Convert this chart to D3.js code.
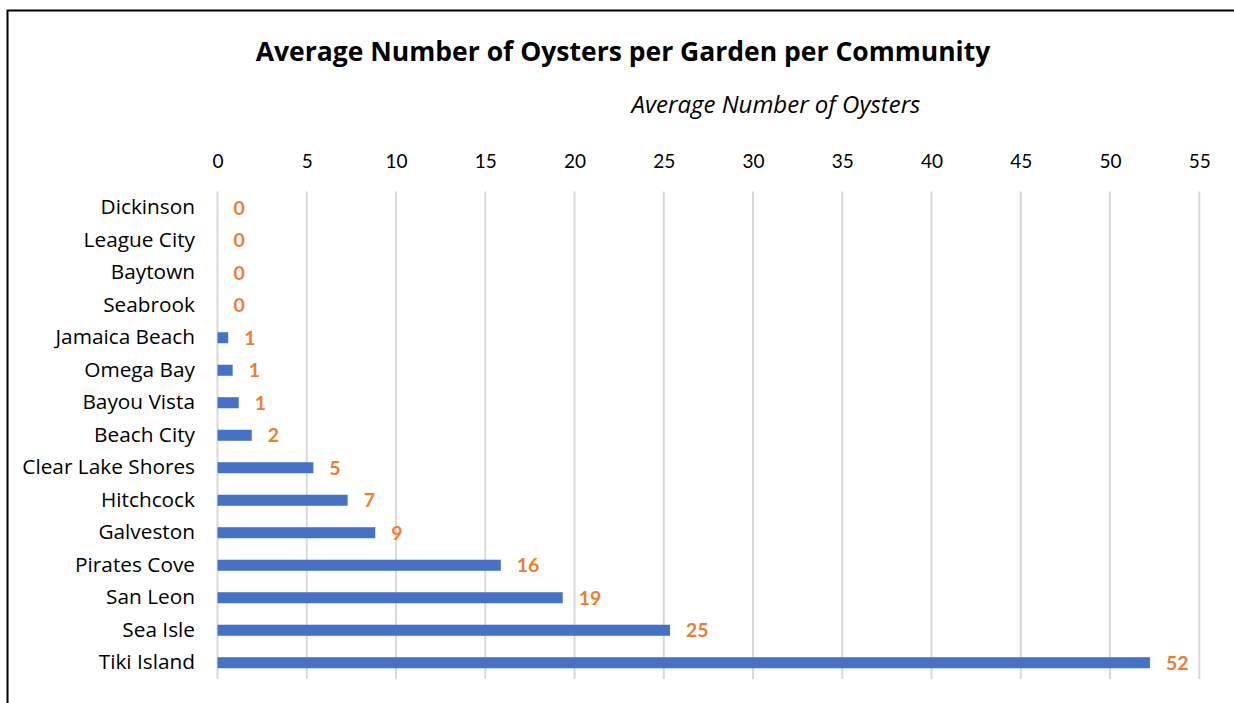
<!DOCTYPE html>
<html>
<head>
<meta charset="utf-8">
<script src="https://cdn.jsdelivr.net/npm/d3@7"></script>
<style>
  html, body { margin: 0; padding: 0; background: #fff; }
  svg { display: block; font-family: Lato, "Open Sans", sans-serif; }
</style>
</head>
<body>
<svg id="chart" width="1234" height="703"></svg>
<script>
const categories = ["Dickinson", "League City", "Baytown", "Seabrook", "Jamaica Beach", "Omega Bay", "Bayou Vista", "Beach City", "Clear Lake Shores", "Hitchcock", "Galveston", "Pirates Cove", "San Leon", "Sea Isle", "Tiki Island"];
const values = [0, 0, 0, 0, 0.6, 0.85, 1.19, 1.92, 5.37, 7.29, 8.84, 15.87, 19.34, 25.35, 52.24];
const tickValues = [0, 5, 10, 15, 20, 25, 30, 35, 40, 45, 50, 55];
const titleText = "Average Number of Oysters per Garden per Community";
const axisTitleText = "Average Number of Oysters";

const svg = d3.select("#chart");

// frame border (left and top)
svg.append("path")
  .attr("d", "M7.5,703 V10.5 H1234")
  .attr("fill", "none").attr("stroke", "#000").attr("stroke-width", 2);

const x = d3.scaleLinear().domain([0, 55]).range([217.5, 1199.3]);
const y = d3.scaleBand().domain(categories).range([191.5, 679]).paddingInner(0.66).paddingOuter(0.33);

// gridlines
svg.append("g").selectAll("line").data(tickValues).join("line")
  .attr("x1", d => x(d)).attr("x2", d => x(d))
  .attr("y1", 191.5).attr("y2", 679)
  .attr("stroke", "#d9d9d9").attr("stroke-width", 2);

// top axis tick labels
const axis = d3.axisTop(x).tickValues(tickValues).tickSize(0).tickPadding(0).tickFormat(d3.format("d"));
const ax = svg.append("g").attr("transform", "translate(0,168)").call(axis);
ax.select(".domain").remove();
ax.selectAll("text").attr("font-size", 19).attr("font-family", "Lato, sans-serif").attr("fill", "#000");

// category labels
const yAxis = d3.axisLeft(y).tickSize(0).tickPadding(0);
const ay = svg.append("g").attr("transform", "translate(195,0)").call(yAxis);
ay.select(".domain").remove();
ay.selectAll("text").attr("font-size", 20.8).attr("font-family", "'Open Sans', sans-serif").attr("fill", "#000");

// bars
svg.append("g").selectAll("rect").data(categories).join("rect")
  .attr("x", x(0))
  .attr("y", d => y(d))
  .attr("width", (d, i) => x(values[i]) - x(0))
  .attr("height", y.bandwidth())
  .attr("fill", "#4472C4");

// data labels
svg.append("g").selectAll("text").data(categories).join("text")
  .attr("x", (d, i) => x(values[i]) + 16)
  .attr("y", d => y(d) + y.bandwidth() / 2)
  .attr("dy", "0.36em")
  .attr("font-size", 19.5).attr("font-weight", "bold")
  .attr("fill", "#ED7D31")
  .text((d, i) => Math.round(values[i]));

// titles
svg.append("text").attr("x", 623).attr("y", 51).attr("dy", "0.36em")
  .attr("text-anchor", "middle").attr("font-size", 26.5).attr("font-weight", "bold")
  .attr("font-family", "'Open Sans', sans-serif")
  .attr("fill", "#000").text(titleText);
svg.append("text").attr("x", 776).attr("y", 104).attr("dy", "0.36em")
  .attr("text-anchor", "middle").attr("font-size", 24).attr("font-style", "italic")
  .attr("font-family", "'Open Sans', sans-serif")
  .attr("fill", "#000").text(axisTitleText);
</script>
</body>
</html>
